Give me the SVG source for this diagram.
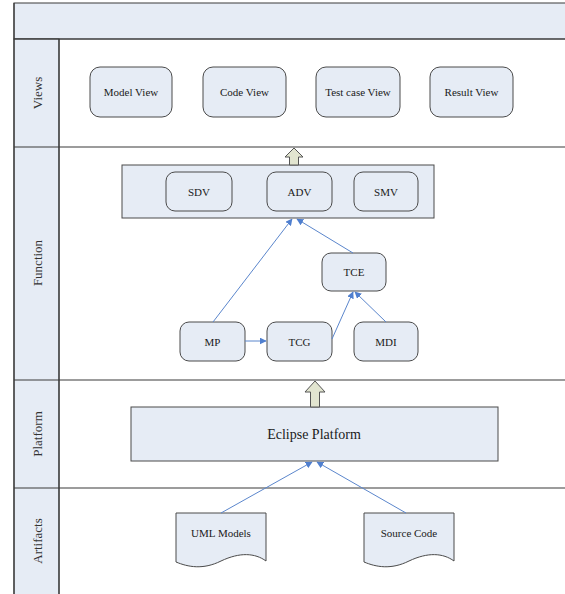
<svg xmlns="http://www.w3.org/2000/svg" width="565" height="594" viewBox="0 0 565 594">
  <style>
    .band { fill: #e6ecf5; stroke: #3a3a3a; stroke-width: 1; }
    .line { stroke: #3a3a3a; stroke-width: 1.2; fill: none; }
    .box { fill: #e6ecf5; stroke: #4a4a4a; stroke-width: 1; }
    .lbl { font-family: "Liberation Serif", "Times New Roman", serif; font-size: 11px; fill: #1a1a1a; text-anchor: middle; dominant-baseline: central; }
    .lane { font-family: "Liberation Serif", "Times New Roman", serif; font-size: 13px; fill: #333; text-anchor: middle; dominant-baseline: central; }
    .big { font-size: 14px; }
    .conn { stroke: #5b86cc; stroke-width: 1; fill: none; marker-end: url(#head); }
    .block { fill: #e2e5d0; stroke: #555; stroke-width: 1; }
  </style>
  <defs>
    <marker id="head" viewBox="0 0 10 10" refX="9" refY="5" markerWidth="7" markerHeight="7" markerUnits="userSpaceOnUse" orient="auto">
      <path d="M0,0 L10,5 L0,10 Z" fill="#4f7fcf"/>
    </marker>
  </defs>

  <rect x="0" y="0" width="565" height="594" fill="#ffffff"/>

  <!-- swimlane frame -->
  <g id="lanes">
    <rect class="band" x="14" y="3" width="560" height="36"/>
    <rect class="band" x="14" y="39" width="45" height="560"/>
    <line class="line" x1="14" y1="39" x2="565" y2="39"/>
    <line class="line" x1="14" y1="147" x2="565" y2="147"/>
    <line class="line" x1="14" y1="380" x2="565" y2="380"/>
    <line class="line" x1="14" y1="488" x2="565" y2="488"/>
    <line class="line" x1="59" y1="39" x2="59" y2="594"/>
    <line class="line" x1="14" y1="3" x2="14" y2="594"/>
    <text class="lane" transform="translate(37,93) rotate(-90)">Views</text>
    <text class="lane" transform="translate(37,263) rotate(-90)">Function</text>
    <text class="lane" transform="translate(37,434) rotate(-90)">Platform</text>
    <text class="lane" transform="translate(37,541) rotate(-90)">Artifacts</text>
  </g>

  <!-- views -->
  <g id="model-view"><rect class="box" x="90" y="67" width="82" height="50" rx="10"/><text class="lbl" x="131" y="92">Model View</text></g>
  <g id="code-view"><rect class="box" x="203" y="67" width="83" height="50" rx="10"/><text class="lbl" x="244.5" y="92">Code View</text></g>
  <g id="testcase-view"><rect class="box" x="316" y="67" width="84" height="50" rx="10"/><text class="lbl" x="358" y="92">Test case View</text></g>
  <g id="result-view"><rect class="box" x="430" y="67" width="83" height="50" rx="10"/><text class="lbl" x="471.5" y="92">Result View</text></g>

  <!-- function container -->
  <g id="function-box">
    <rect class="box" x="122" y="165" width="312" height="53"/>
  </g>
  <g id="sdv"><rect class="box" x="166" y="172" width="66" height="39" rx="9"/><text class="lbl" x="199" y="191.5">SDV</text></g>
  <g id="adv"><rect class="box" x="267" y="172" width="65" height="39" rx="9"/><text class="lbl" x="299.5" y="191.5">ADV</text></g>
  <g id="smv"><rect class="box" x="354" y="172" width="64" height="39" rx="9"/><text class="lbl" x="386" y="191.5">SMV</text></g>

  <g id="tce"><rect class="box" x="322" y="253" width="64" height="38" rx="9"/><text class="lbl" x="354" y="272">TCE</text></g>
  <g id="mp"><rect class="box" x="180" y="322" width="65" height="39" rx="9"/><text class="lbl" x="212.5" y="341.5">MP</text></g>
  <g id="tcg"><rect class="box" x="267" y="322" width="65" height="39" rx="9"/><text class="lbl" x="299.5" y="341.5">TCG</text></g>
  <g id="mdi"><rect class="box" x="354" y="322" width="64" height="39" rx="9"/><text class="lbl" x="386" y="341.5">MDI</text></g>

  <!-- platform -->
  <g id="eclipse"><rect class="box" x="131" y="407" width="367" height="54"/><text class="lbl big" x="314" y="434">Eclipse Platform</text></g>

  <!-- artifacts -->
  <g id="uml-models">
    <path class="box" d="M176,513 H266 V561 C255,553 240,552 221,561 C203,570 188,567 176,562 Z"/>
    <text class="lbl" x="221" y="533">UML Models</text>
  </g>
  <g id="source-code">
    <path class="box" d="M364,513 H454 V561 C443,553 428,552 409,561 C391,570 376,567 364,562 Z"/>
    <text class="lbl" x="409" y="533">Source Code</text>
  </g>

  <!-- connectors -->
  <g id="connectors">
    <path class="block" d="M294,148 L303,157 L298.5,157 L298.5,165 L289.5,165 L289.5,157 L285,157 Z"/>
    <path class="block" d="M315,381 L325,392 L319.5,392 L319.5,407 L310.5,407 L310.5,392 L305,392 Z"/>
    <line class="conn" x1="213" y1="322" x2="292" y2="219"/>
    <line class="conn" x1="353" y1="253" x2="297" y2="219"/>
    <line class="conn" x1="245" y1="341" x2="266" y2="341"/>
    <line class="conn" x1="332" y1="339" x2="353" y2="292"/>
    <line class="conn" x1="386" y1="322" x2="355" y2="292"/>
    <line class="conn" x1="221" y1="513" x2="312" y2="462"/>
    <line class="conn" x1="406" y1="513" x2="317" y2="462"/>
  </g>
</svg>
